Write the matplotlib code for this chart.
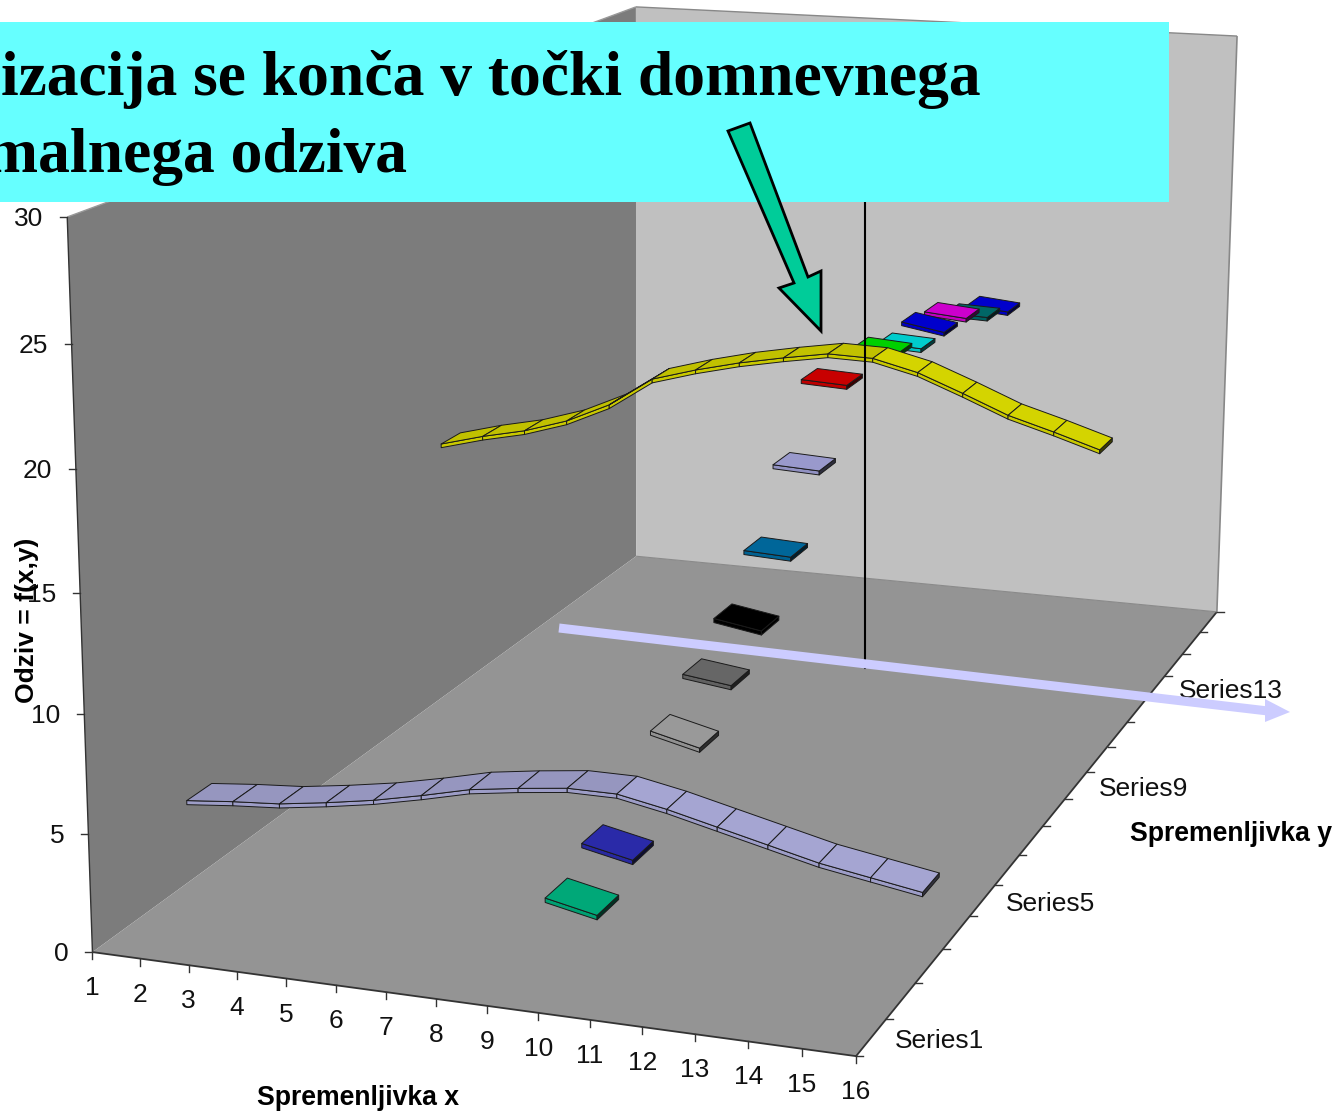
import numpy as np
import matplotlib
matplotlib.use('Agg')
import matplotlib.pyplot as plt
from matplotlib.patches import Polygon, Rectangle

# Response values: two series are complete curves, the others hold one cell from x = 10 to x = 11
x_categories = list(range(1, 17))
series_names = [f"Series{i}" for i in range(1, 17)]
z_ticks = [0, 5, 10, 15, 20, 25, 30]
y_labelled = [1, 5, 9, 13]

series3_curve = [3.6, 3.8, 3.95, 4.25, 4.6, 5.05, 5.55, 5.85, 6.1, 6.1, 5.7, 5.2, 4.7, 4.2, 3.85, 3.5]
series10_curve = [12.55, 13.1, 13.55, 14.2, 15.15, 16.55, 17.15, 17.65, 18.05, 18.4, 18.35, 17.85, 17.05, 16.2, 15.6, 14.95]
single_series = [1, 2, 4, 5, 6, 7, 8, 9, 11, 12, 13, 14, 15, 16]
single_at_x10 = [4.42, 5.32, 7.55, 8.83, 10.17, 12.15, 15.05, 18.05, 17.87, 17.26, 17.48, 17.19, 16.34, 15.95]
single_at_x11 = [3.98, 4.88, 7.05, 8.56, 9.83, 12.05, 14.95, 17.95, 17.73, 17.14, 17.12, 17.01, 16.26, 15.75]
single_x_start = 10

series_colors = {1: '#00A878', 2: '#2A2AA8', 3: '#A5A5D2', 4: '#999999', 5: '#666666', 6: '#000000',
                 7: '#006699', 8: '#9999CC', 9: '#C80000', 10: '#D4D400', 11: '#00D000', 12: '#00CCCC',
                 13: '#0000CC', 14: '#CC00CC', 15: '#006666', 16: '#0000CC'}

plt.rcParams['font.family'] = ['Liberation Sans', 'DejaVu Sans']
W, H = 1338, 1111
fig = plt.figure(figsize=(W / 100, H / 100), dpi=100)
ax = fig.add_axes([0, 0, 1, 1])
ax.set_xlim(0, W)
ax.set_ylim(H, 0)
ax.axis('off')

# Camera: perspective matrix fitted to where the plot box corners land on the canvas
box_world = [(1, 0, 0), (16, 0, 0), (16, 16, 0), (1, 16, 0), (1, 0, 30), (1, 16, 30), (16, 16, 30),
             (1, 0, 25), (1, 0, 20), (1, 0, 15), (1, 0, 10), (1, 0, 5)]
box_canvas = [(93, 952), (856, 1056), (1217, 612), (636, 556), (67, 217), (636, 7), (1237, 36),
              (72, 344), (76, 469), (80, 593), (84, 715), (88, 834)]
rows, rhs = [], []
for (X, Y, Z), (u, v) in zip(box_world, box_canvas):
    rows.append([X, Y, Z, 1, 0, 0, 0, 0, -u * X, -u * Y, -u * Z])
    rows.append([0, 0, 0, 0, X, Y, Z, 1, -v * X, -v * Y, -v * Z])
    rhs += [u, v]
cam = np.append(np.linalg.lstsq(np.array(rows, float), np.array(rhs, float), rcond=None)[0], 1).reshape(3, 4)


def pr(X, Y, Z):
    h = cam @ np.array([X, Y, Z, 1.0])
    return h[0] / h[2], h[1] / h[2]


def face(pts, fc, z, ec='none', lw=0.0):
    ax.add_patch(Polygon([pr(*p) for p in pts], closed=True, fc=fc, ec=ec, lw=lw, zorder=z, joinstyle='round'))


def shade(color, f):
    c = np.array(matplotlib.colors.to_rgb(color))
    return tuple(np.clip(c * f, 0, 1))


# Box walls and floor
face([(1, 0, 0), (1, 0, 30), (1, 16, 30), (1, 16, 0)], '#7C7C7C', 1)
face([(1, 16, 0), (1, 16, 30), (16, 16, 30), (16, 16, 0)], '#C0C0C0', 1)
face([(1, 0, 0), (16, 0, 0), (16, 16, 0), (1, 16, 0)], '#949494', 2)


def edge(a, b, color, lw, z=3):
    p, q = pr(*a), pr(*b)
    ax.plot([p[0], q[0]], [p[1], q[1]], color=color, lw=lw, zorder=z, solid_capstyle='butt')


edge((1, 0, 0), (1, 0, 30), '#333333', 1.0)
edge((1, 0, 30), (1, 16, 30), '#999999', 1.0)
edge((1, 16, 30), (16, 16, 30), '#888888', 1.0)
edge((16, 16, 30), (16, 16, 0), '#888888', 1.2)
edge((1, 0, 0), (16, 0, 0), '#333333', 1.3)
edge((16, 0, 0), (16, 16, 0), '#333333', 1.3)
edge((1, 16, 0), (16, 16, 0), '#8A8A8A', 0.8)

# Axis ticks and labels
TICK = 7
for v in z_ticks:
    px, py = pr(1, 0, v)
    ax.plot([px - TICK, px], [py, py], color='#333333', lw=1, zorder=3)
    ax.text(px - 24, py + 2, str(v), ha='right', va='center', fontsize=19, color='#111111', zorder=4)
for v in x_categories:
    px, py = pr(v, 0, 0)
    ax.plot([px, px], [py, py + TICK], color='#333333', lw=1, zorder=3)
    ax.text(px, py + 36, str(v), ha='center', va='center', fontsize=19, color='#111111', zorder=4)
for k in range(17):
    px, py = pr(16, k, 0)
    ax.plot([px, px + TICK], [py, py], color='#333333', lw=1, zorder=3)
for n in y_labelled:
    px, py = pr(16, n - 0.5, 0)
    ax.text(px + 23, py + 4, series_names[n - 1], ha='left', va='center', fontsize=19, color='#111111', zorder=4)

ax.text(358, 1098, 'Spremenljivka x', ha='center', va='center', fontsize=19.2, fontweight='bold', zorder=4)
ax.text(1231, 834, 'Spremenljivka y', ha='center', va='center', fontsize=19.2, fontweight='bold', zorder=4)
ax.text(27, 620, 'Odziv = f(x,y)', ha='center', va='center', rotation=90, fontsize=19, fontweight='bold', zorder=4)

# Data marks: flat cells with a thin front lip
BAND = 0.3       # half depth of a series within its band
LIP = 0.18       # thickness of a cell
ribbon_colors = (series_colors[3], series_colors[10])


def cell(x0, x1, y, z0, z1, color, order, end_cap=True):
    yf, yb = y - BAND, y + BAND
    edge_c = '#1A1A1A'
    face([(x0, yf, z0), (x1, yf, z1), (x1, yf, z1 - LIP), (x0, yf, z0 - LIP)],
         shade(color, 0.95), order, ec=edge_c, lw=0.7)
    if end_cap:
        face([(x1, yf, z1), (x1, yb, z1), (x1, yb, z1 - LIP), (x1, yf, z1 - LIP)],
             shade(color, 0.3), order, ec=edge_c, lw=0.7)
    # Rising stretches of a ribbon catch less light than falling ones
    top = shade(color, 0.91) if z1 - z0 > -0.1 and color in ribbon_colors else color
    face([(x0, yf, z0), (x1, yf, z1), (x1, yb, z1), (x0, yb, z0)], top, order + 0.1, ec=edge_c, lw=0.7)


for n, curve in ((10, series10_curve), (3, series3_curve)):
    order = 5 + (16 - n)
    for i in range(len(x_categories) - 1):
        cell(x_categories[i], x_categories[i + 1], n - 0.5, curve[i], curve[i + 1],
             series_colors[n], order + i * 0.01, end_cap=(i == len(x_categories) - 2))

for n, v0, v1 in zip(single_series, single_at_x10, single_at_x11):
    cell(single_x_start, single_x_start + 1, n - 0.5, v0, v1, series_colors[n], 5 + (16 - n))

# Annotation overlay
ax.plot([865, 865], [150, 668], color='black', lw=1.5, zorder=30)
ax.plot([559, 1268], [628, 711], color='#CCCCFF', lw=6.5, zorder=31, solid_capstyle='butt')
ax.add_patch(Polygon([(1265, 699), (1290, 712), (1265, 722)], closed=True, fc='#CCCCFF', ec='none', zorder=31))
ax.add_patch(Rectangle((0, 22), 1169, 180, fc='#66FFFF', ec='none', zorder=40))
banner_font = dict(family=['Liberation Serif', 'DejaVu Serif'], fontweight='bold', fontsize=45.8, color='black',
                   ha='left', va='baseline', zorder=41)
ax.text(1, 95, 'izacija se konča v točki domnevnega', **banner_font)
ax.text(-15, 172, 'malnega odziva', **banner_font)
ax.add_patch(Polygon([(728, 131), (750, 123), (808, 277), (821, 271), (821, 331), (779, 288), (794, 283)],
                     closed=True, fc='#00CC99', ec='black', lw=2, zorder=42, joinstyle='miter'))

fig.savefig('out.png', dpi=100)
